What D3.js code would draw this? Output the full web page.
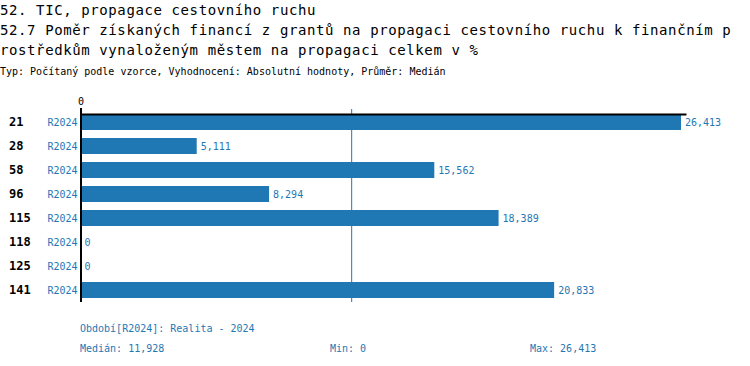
<!DOCTYPE html>
<html>
<head>
<meta charset="utf-8">
<script src="https://cdn.jsdelivr.net/npm/d3@7"></script>
<style>
  html, body { margin: 0; padding: 0; background: #fff; }
  svg { display: block; }
  text { font-family: "DejaVu Sans Mono", "Liberation Mono", monospace; }
</style>
</head>
<body>
<div id="chart"></div>
<script>
const titleLines = [
  "52. TIC, propagace cestovního ruchu",
  "52.7 Poměr získaných financí z grantů na propagaci cestovního ruchu k finančním p",
  "rostředkům vynaloženým městem na propagaci celkem v %"
];
const subtitle = "Typ: Počítaný podle vzorce, Vyhodnocení: Absolutní hodnoty, Průměr: Medián";
const categories = ["21", "28", "58", "96", "115", "118", "125", "141"];
const seriesName = "R2024";
const values = [26413, 5111, 15562, 8294, 18389, 0, 0, 20833];
const periodLabel = "Období[R2024]: Realita - 2024";
const tickValues = [0];

const W = 750, H = 366;
const blue = "#1f77b4";
const fmt = d3.format(",");

const svg = d3.select("#chart").append("svg")
  .attr("width", W).attr("height", H);

// Titles
const tY = [15, 35, 55];
titleLines.forEach((t, i) => {
  svg.append("text").attr("x", 0).attr("y", tY[i])
    .attr("font-size", 14).attr("letter-spacing", "0.6px")
    .attr("fill", "#000").text(t);
});
svg.append("text").attr("x", 0).attr("y", 75)
  .attr("font-size", 10).attr("fill", "#000").text(subtitle);

const data = categories.map((c, i) => ({ cat: c, v: values[i] }));
const maxV = d3.max(values), minV = d3.min(values), medV = d3.median(values);

const x = d3.scaleLinear().domain([0, maxV]).range([80.5, 681]);
const y = d3.scaleBand().domain(categories).range([110, 302])
  .paddingInner(1 / 3).paddingOuter(1 / 6);

// median line
svg.append("line")
  .attr("x1", x(medV)).attr("x2", x(medV))
  .attr("y1", 109).attr("y2", 302)
  .attr("stroke", blue).attr("stroke-width", 1);

// bars
svg.selectAll("rect.bar").data(data).join("rect")
  .attr("class", "bar")
  .attr("x", x(0)).attr("y", d => y(d.cat))
  .attr("width", d => x(d.v) - x(0)).attr("height", y.bandwidth())
  .attr("fill", blue);

// value labels
svg.selectAll("text.val").data(data).join("text")
  .attr("class", "val")
  .attr("x", d => x(d.v) + 4)
  .attr("y", d => y(d.cat) + y.bandwidth() / 2)
  .attr("dy", "0.35em")
  .attr("font-size", 10).attr("fill", blue)
  .text(d => fmt(d.v));

// category labels
svg.selectAll("text.cat").data(data).join("text")
  .attr("class", "cat")
  .attr("x", 9)
  .attr("y", d => y(d.cat) + y.bandwidth() / 2)
  .attr("dy", "0.36em")
  .attr("font-size", 12).attr("font-weight", "bold").attr("fill", "#000")
  .text(d => d.cat);

// series labels
svg.selectAll("text.ser").data(data).join("text")
  .attr("class", "ser")
  .attr("x", 77.5)
  .attr("y", d => y(d.cat) + y.bandwidth() / 2)
  .attr("dy", "0.36em")
  .attr("text-anchor", "end")
  .attr("font-size", 10).attr("fill", blue)
  .text(seriesName);

// top axis
const xAxisScale = x.copy().domain([0, x.invert(686)]).range([80.5, 686]);
const gx = svg.append("g").attr("transform", "translate(0,114)")
  .call(d3.axisTop(xAxisScale).tickValues(tickValues)
    .tickSizeInner(6).tickSizeOuter(0).tickFormat(d3.format("d")));
gx.select(".domain").attr("stroke", "#000").attr("stroke-width", 2);
gx.selectAll(".tick line").attr("stroke", "#000").attr("stroke-width", 2);
gx.selectAll(".tick text").attr("font-size", 10)
  .attr("font-family", "DejaVu Sans Mono").attr("fill", "#000");

// vertical axis
svg.append("line")
  .attr("x1", 81).attr("x2", 81)
  .attr("y1", 113).attr("y2", 302)
  .attr("stroke", "#000").attr("stroke-width", 2);

// footer
svg.append("text").attr("x", 80).attr("y", 332)
  .attr("font-size", 10).attr("fill", blue).text(periodLabel);
svg.append("text").attr("x", 80).attr("y", 351.5)
  .attr("font-size", 10).attr("fill", blue).text("Medián: " + fmt(medV));
svg.append("text").attr("x", 330).attr("y", 351.5)
  .attr("font-size", 10).attr("fill", blue).text("Min: " + fmt(minV));
svg.append("text").attr("x", 530).attr("y", 351.5)
  .attr("font-size", 10).attr("fill", blue).text("Max: " + fmt(maxV));
</script>
</body>
</html>
